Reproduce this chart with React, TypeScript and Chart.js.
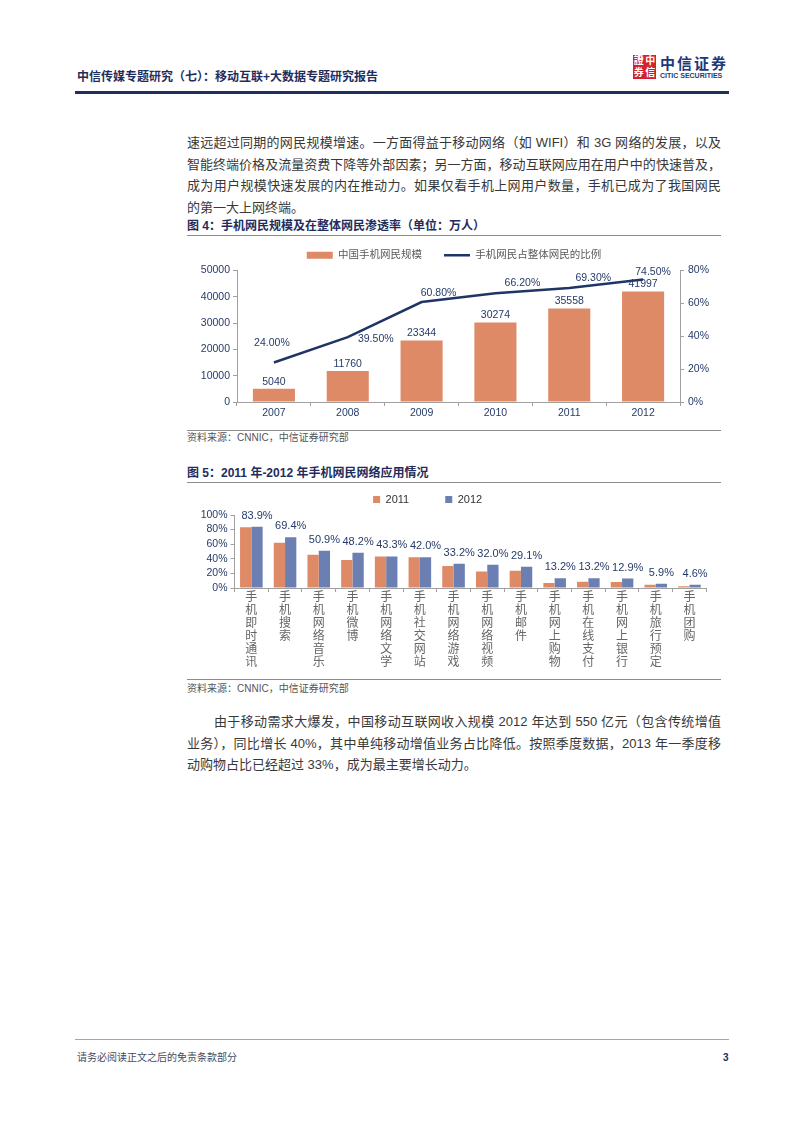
import React, { useEffect, useRef } from "react";
import { Chart, registerables } from "chart.js";

Chart.register(...registerables);

const FONT = '"Liberation Sans", "Noto Sans CJK SC", sans-serif';
const NAVY = "#263b69";
const AXIS = "#a0a0a0";
const ORANGE = "#df8a67";
const BLUE = "#6b7fb3";
const LINE_NAVY = "#1f3566";
const TEXT = "#383838";

// ---- Figure 4 data ----
const years = ["2007", "2008", "2009", "2010", "2011", "2012"];
const mobileUsers = [5040, 11760, 23344, 30274, 35558, 41997];
const penetrationPct = [24.0, 39.5, 60.8, 66.2, 69.3, 74.5];
const fig4Legend = ["中国手机网民规模", "手机网民占整体网民的比例"];
const usersAxisMax = 50000;
const usersAxisStep = 10000;
const pctAxisMax = 80;
const pctAxisStep = 20;

// ---- Figure 5 data ----
const appNames = [
  "手机即时通讯",
  "手机搜索",
  "手机网络音乐",
  "手机微博",
  "手机网络文学",
  "手机社交网站",
  "手机网络游戏",
  "手机网络视频",
  "手机邮件",
  "手机网上购物",
  "手机在线支付",
  "手机网上银行",
  "手机旅行预定",
  "手机团购",
];
const usage2011 = [83.1, 62.1, 45.7, 38.5, 43.3, 42.0, 30.2, 22.5, 23.6, 7.0, 8.6, 8.2, 4.3, 2.3];
const usage2012 = [83.9, 69.4, 50.9, 48.2, 43.3, 42.0, 33.2, 32.0, 29.1, 13.2, 13.2, 12.9, 5.9, 4.6];
const fig5Series = ["2011", "2012"];
const usageAxisMax = 100;
const usageAxisStep = 20;

// label placement (style, not data): offsets of line value labels from their points
const lineLabelOffsets: [number, number][] = [
  [-2, -19],
  [28, 2],
  [17, -9],
  [27, -10],
  [24, -10],
  [10, -7],
];

function Fig4() {
  const ref = useRef<HTMLCanvasElement>(null);
  useEffect(() => {
    const labelsPlugin = {
      id: "fig4Labels",
      afterDatasetsDraw(chart: any) {
        const ctx = chart.ctx;
        ctx.save();
        ctx.font = `10.5px ${FONT}`;
        ctx.fillStyle = NAVY;
        ctx.textAlign = "center";
        ctx.textBaseline = "middle";
        chart.getDatasetMeta(0).data.forEach((el: any, i: number) => {
          ctx.fillText(String(mobileUsers[i]), el.x, el.y - 7);
        });
        chart.getDatasetMeta(1).data.forEach((el: any, i: number) => {
          const [dx, dy] = lineLabelOffsets[i];
          ctx.fillText(penetrationPct[i].toFixed(2) + "%", el.x + dx, el.y + dy);
        });
        ctx.restore();
      },
    };
    const tickFont = { family: FONT, size: 10.5 };
    const chart = new Chart(ref.current as HTMLCanvasElement, {
      type: "bar",
      data: {
        labels: years,
        datasets: [
          {
            type: "bar",
            label: fig4Legend[0],
            data: mobileUsers,
            backgroundColor: ORANGE,
            borderWidth: 0,
            yAxisID: "y",
            order: 2,
            pointStyle: "rect",
            barPercentage: 0.57,
            categoryPercentage: 1,
          } as any,
          {
            type: "line",
            label: fig4Legend[1],
            data: penetrationPct,
            borderColor: LINE_NAVY,
            backgroundColor: LINE_NAVY,
            borderWidth: 2.5,
            pointRadius: 0,
            yAxisID: "y1",
            order: 1,
            pointStyle: "line",
            tension: 0,
          } as any,
        ],
      },
      options: {
        responsive: false,
        animation: false,
        layout: { padding: 0 },
        plugins: {
          legend: {
            position: "top",
            labels: {
              usePointStyle: true,
              pointStyleWidth: 26,
              boxHeight: 7,
              padding: 22,
              color: "#595959",
              font: { family: FONT, size: 10.5 },
              sort: (a: any, b: any) => a.datasetIndex - b.datasetIndex,
            },
          } as any,
          tooltip: { enabled: false },
        },
        scales: {
          x: {
            grid: { drawOnChartArea: false, drawTicks: true, tickLength: 4, color: AXIS, offset: true },
            border: { color: AXIS },
            ticks: { color: NAVY, font: tickFont, padding: 1 },
            afterFit: (s: any) => {
              s.height = 22;
            },
          },
          y: {
            position: "left",
            min: 0,
            max: usersAxisMax,
            ticks: {
              stepSize: usersAxisStep,
              color: NAVY,
              font: tickFont,
              padding: 3,
              autoSkip: false,
              callback: (v: any) => String(v),
            },
            grid: { drawOnChartArea: false, tickLength: 4, color: AXIS },
            border: { color: AXIS },
            afterFit: (s: any) => {
              s.width = 50;
            },
          },
          y1: {
            position: "right",
            min: 0,
            max: pctAxisMax,
            ticks: {
              stepSize: pctAxisStep,
              color: NAVY,
              font: tickFont,
              padding: 4,
              autoSkip: false,
              callback: (v: any) => v + "%",
            },
            grid: { drawOnChartArea: false, tickLength: 4, color: AXIS },
            border: { color: AXIS },
            afterFit: (s: any) => {
              s.width = 41;
            },
          },
        } as any,
      },
      plugins: [labelsPlugin],
    });
    return () => chart.destroy();
  }, []);
  return (
    <canvas
      ref={ref}
      width={534}
      height={196}
      style={{ position: "absolute", left: 187, top: 227.5, width: 534, height: 196 }}
    />
  );
}

function Fig5() {
  const ref = useRef<HTMLCanvasElement>(null);
  useEffect(() => {
    const labelsPlugin = {
      id: "fig5Labels",
      afterDatasetsDraw(chart: any) {
        const ctx = chart.ctx;
        ctx.save();
        ctx.font = `11px ${FONT}`;
        ctx.fillStyle = NAVY;
        ctx.textAlign = "center";
        ctx.textBaseline = "middle";
        chart.getDatasetMeta(1).data.forEach((el: any, i: number) => {
          ctx.fillText(usage2012[i].toFixed(1) + "%", el.x, el.y - 11);
        });
        ctx.restore();
      },
    };
    const tickFont = { family: FONT, size: 10.5 };
    const chart = new Chart(ref.current as HTMLCanvasElement, {
      type: "bar",
      data: {
        labels: appNames.map((n) => n.split("")),
        datasets: [
          {
            label: fig5Series[0],
            data: usage2011,
            backgroundColor: ORANGE,
            borderWidth: 0,
            barPercentage: 1,
            categoryPercentage: 0.67,
          },
          {
            label: fig5Series[1],
            data: usage2012,
            backgroundColor: BLUE,
            borderWidth: 0,
            barPercentage: 1,
            categoryPercentage: 0.67,
          },
        ],
      },
      options: {
        responsive: false,
        animation: false,
        layout: { padding: { top: 0, right: 14.7, bottom: 0, left: 0 } },
        plugins: {
          legend: {
            position: "top",
            labels: {
              boxWidth: 7,
              boxHeight: 7,
              padding: 36,
              color: "#333333",
              font: { family: FONT, size: 11 },
            },
          },
          tooltip: { enabled: false },
        },
        scales: {
          x: {
            grid: { drawOnChartArea: false, drawTicks: true, tickLength: 4, color: AXIS, offset: true },
            border: { color: AXIS },
            ticks: {
              color: "#666666",
              font: { family: FONT, size: 12, lineHeight: "13px" } as any,
              padding: -1,
              maxRotation: 0,
              autoSkip: false,
            },
            afterFit: (s: any) => {
              s.height = 90;
            },
          },
          y: {
            min: 0,
            max: usageAxisMax,
            ticks: {
              stepSize: usageAxisStep,
              color: NAVY,
              font: tickFont,
              padding: 3,
              autoSkip: false,
              callback: (v: any) => v + "%",
            },
            grid: { drawOnChartArea: false, tickLength: 4, color: AXIS },
            border: { color: AXIS },
            afterFit: (s: any) => {
              s.width = 85.5;
            },
          },
        } as any,
      },
      plugins: [labelsPlugin],
    });
    return () => chart.destroy();
  }, []);
  return (
    <canvas
      ref={ref}
      width={572}
      height={220}
      style={{ position: "absolute", left: 149, top: 457.5, width: 572, height: 220 }}
    />
  );
}

function Line(props: { y: number; left?: number; right?: number; h?: number; color?: string }) {
  const left = props.left ?? 187;
  const right = props.right ?? 721;
  const h = props.h ?? 1;
  return (
    <div
      style={{
        position: "absolute",
        left,
        top: props.y - h / 2,
        width: right - left,
        height: h,
        background: props.color ?? "#8c8c8c",
      }}
    />
  );
}

function Txt(props: {
  x: number;
  y: number;
  size: number;
  children: React.ReactNode;
  bold?: boolean;
  color?: string;
  width?: number;
  justify?: boolean;
}) {
  const lh = props.size * 1.6;
  return (
    <div
      style={{
        position: "absolute",
        left: props.x,
        top: props.y - lh / 2,
        height: lh,
        lineHeight: lh + "px",
        fontSize: props.size,
        fontFamily: FONT,
        fontWeight: props.bold ? 700 : 400,
        color: props.color ?? TEXT,
        whiteSpace: "nowrap",
        width: props.width,
        textAlign: props.justify ? "justify" : "left",
        textAlignLast: props.justify ? "justify" : "auto",
      } as any}
    >
      {props.children}
    </div>
  );
}

export default function App() {
  const para1 = [
    "速远超过同期的网民规模增速。一方面得益于移动网络（如 WIFI）和 3G 网络的发展，以及",
    "智能终端价格及流量资费下降等外部因素；另一方面，移动互联网应用在用户中的快速普及，",
    "成为用户规模快速发展的内在推动力。如果仅看手机上网用户数量，手机已成为了我国网民",
    "的第一大上网终端。",
  ];
  const para1Y = [143, 165, 186, 208];
  const para2 = [
    "由于移动需求大爆发，中国移动互联网收入规模 2012 年达到 550 亿元（包含传统增值",
    "业务），同比增长 40%，其中单纯移动增值业务占比降低。按照季度数据，2013 年一季度移",
    "动购物占比已经超过 33%，成为最主要增长动力。",
  ];
  const para2Y = [722, 744, 765];
  return (
    <div
      style={{
        position: "absolute",
        left: 0,
        top: 0,
        width: 802,
        height: 1133,
        background: "#ffffff",
        overflow: "hidden",
        fontFamily: FONT,
      }}
    >
      {/* header */}
      <Txt x={77} y={78} size={12} bold color="#1f2d5c">
        中信传媒专题研究（七）：移动互联+大数据专题研究报告
      </Txt>
      <div
        style={{
          position: "absolute",
          left: 633,
          top: 55,
          width: 23,
          height: 24,
          background: "#d2232a",
          display: "grid",
          gridTemplateColumns: "1fr 1fr",
          color: "#ffffff",
          fontSize: 10,
          lineHeight: "12px",
          textAlign: "center",
          fontWeight: 700,
          fontFamily: FONT,
        }}
      >
        <span>證</span>
        <span>中</span>
        <span>券</span>
        <span>信</span>
      </div>
      <Txt x={660} y={64} size={15} bold color="#1b3a7a">
        <span style={{ letterSpacing: 2 }}>中信证券</span>
      </Txt>
      <Txt x={660} y={76} size={7} bold color="#1b3a7a">
        CITIC SECURITIES
      </Txt>
      <Line y={92} left={75} right={729} h={3} color="#1f2f5e" />

      {/* paragraph 1 */}
      {para1.map((t, i) => (
        <Txt key={i} x={187} y={para1Y[i]} size={13} width={i < para1.length - 1 ? 534 : undefined} justify={i < para1.length - 1}>
          {t}
        </Txt>
      ))}

      {/* figure 4 */}
      <Txt x={187} y={227} size={12} bold color="#1f2d5c">
        图 4：手机网民规模及在整体网民渗透率（单位：万人）
      </Txt>
      <Line y={235.5} />
      <Fig4 />
      <Line y={430} />
      <Txt x={187} y={438} size={10} color="#555555">
        资料来源：CNNIC，中信证券研究部
      </Txt>

      {/* figure 5 */}
      <Txt x={187} y={474} size={12} bold color="#1f2d5c">
        图 5：2011 年-2012 年手机网民网络应用情况
      </Txt>
      <Line y={482.5} />
      <Fig5 />
      <Line y={679.5} />
      <Txt x={187} y={689} size={10} color="#555555">
        资料来源：CNNIC，中信证券研究部
      </Txt>

      {/* paragraph 2 */}
      {para2.map((t, i) => (
        <Txt
          key={i}
          x={i === 0 ? 214 : 187}
          y={para2Y[i]}
          size={13}
          width={i === 0 ? 507 : i === 1 ? 534 : undefined}
          justify={i < para2.length - 1}
        >
          {t}
        </Txt>
      ))}

      {/* footer */}
      <Line y={1039} left={75} right={729} color="#a6a6a6" />
      <Txt x={77} y={1058} size={10} color="#444a5e">
        请务必阅读正文之后的免责条款部分
      </Txt>
      <Txt x={723} y={1058} size={10} bold color="#1f2d5c">
        3
      </Txt>
    </div>
  );
}
